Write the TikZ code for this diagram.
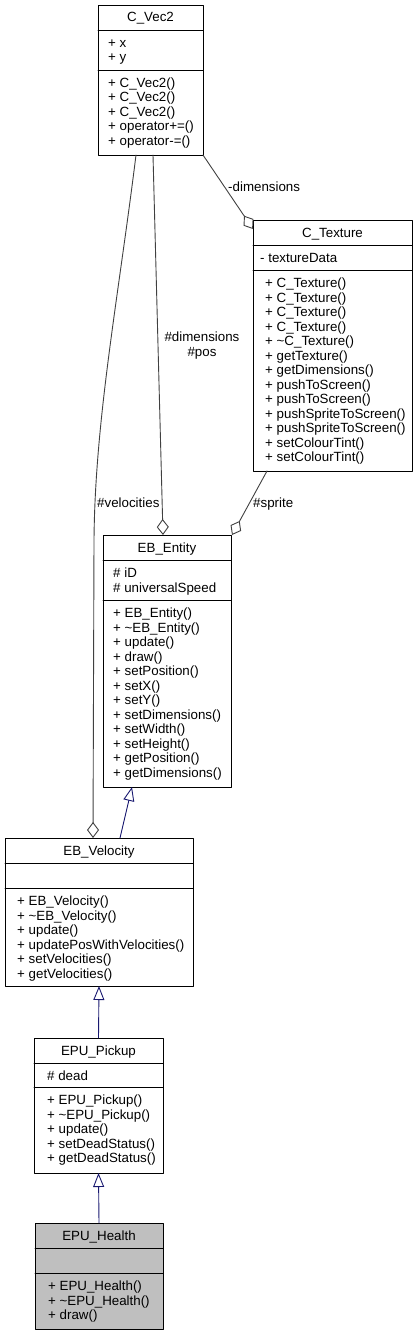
\documentclass[tikz,border=0pt]{standalone}
\usepackage{fontspec}
\setmainfont{Liberation Sans}
\usepackage{tikz}
\usetikzlibrary{arrows.meta}
\definecolor{edgeblue}{HTML}{191970}
\definecolor{edgegrey}{HTML}{404040}
\definecolor{boxgrey}{HTML}{BFBFBF}
\begin{document}
\begin{tikzpicture}[line cap=round,line join=round,x=1pt,y=-1pt,
  font=\fontsize{13.33}{14.5}\selectfont,
  cls/.style={draw=black,fill=white,line width=0.9pt,anchor=north west,inner sep=0,outer sep=0},
  mem/.style={anchor=base west,inner sep=0},
  ttl/.style={anchor=base,inner sep=0},
  lbl/.style={anchor=base west,inner sep=0},
  inh/.style={draw=edgeblue,line width=0.9pt,-{Triangle[open,length=14pt,width=11pt]}},
  agg/.style={draw=edgegrey,line width=0.9pt,-{Diamond[open,length=16pt,width=12pt]}}]
\useasboundingbox (0,0) rectangle (417,1335);
\node[cls,minimum width=105,minimum height=150] (vec2) at (98,5) {};
\draw[line width=0.9pt] (98,30) -- (203,30);
\draw[line width=0.9pt] (98,70) -- (203,70);
\node[ttl] (vec2t) at (150.5,22) {C\_Vec2};
\foreach \t [count=\i] in {+ x,+ y}
\node[mem] (vec2a\i) at (108,{33+\i*14.5}) {\t};
\foreach \t [count=\i] in {+ C\_Vec2(),+ C\_Vec2(),+ C\_Vec2(),+ operator+=(),+ operator-=()}
\node[mem] (vec2m\i) at (108,{73+\i*14.5}) {\t};
\node[cls,minimum width=159,minimum height=251] (texture) at (253,220) {};
\draw[line width=0.9pt] (253,245) -- (412,245);
\draw[line width=0.9pt] (253,270) -- (412,270);
\node[ttl] (texturet) at (332.5,237) {C\_Texture};
\node[mem] (texturea1) at (260,262.5) {- textureData};
\foreach \t [count=\i] in {+ C\_Texture(),+ C\_Texture(),+ C\_Texture(),+ C\_Texture(),+ \textasciitilde C\_Texture(),+ getTexture(),+ getDimensions(),+ pushToScreen(),+ pushToScreen(),+ pushSpriteToScreen(),+ pushSpriteToScreen(),+ setColourTint(),+ setColourTint()}
\node[mem] (texturem\i) at (265,{273+\i*14.5}) {\t};
\node[cls,minimum width=128,minimum height=252] (entity) at (103,535) {};
\draw[line width=0.9pt] (103,560) -- (231,560);
\draw[line width=0.9pt] (103,600) -- (231,600);
\node[ttl] (entityt) at (167,552) {EB\_Entity};
\foreach \t [count=\i] in {\# iD,\# universalSpeed}
\node[mem] (entitya\i) at (113,{563+\i*14.5}) {\t};
\foreach \t [count=\i] in {+ EB\_Entity(),+ \textasciitilde EB\_Entity(),+ update(),+ draw(),+ setPosition(),+ setX(),+ setY(),+ setDimensions(),+ setWidth(),+ setHeight(),+ getPosition(),+ getDimensions()}
\node[mem] (entitym\i) at (113,{603+\i*14.5}) {\t};
\node[cls,minimum width=188,minimum height=148] (velocity) at (5,838) {};
\draw[line width=0.9pt] (5,863) -- (193,863);
\draw[line width=0.9pt] (5,888) -- (193,888);
\node[ttl] (velocityt) at (99,855) {EB\_Velocity};
\foreach \t [count=\i] in {+ EB\_Velocity(),+ \textasciitilde EB\_Velocity(),+ update(),+ updatePosWithVelocities(),+ setVelocities(),+ getVelocities()}
\node[mem] (velocitym\i) at (17,{891+\i*14.5}) {\t};
\node[cls,minimum width=129,minimum height=135] (pickup) at (34,1038) {};
\draw[line width=0.9pt] (34,1063) -- (163,1063);
\draw[line width=0.9pt] (34,1087) -- (163,1087);
\node[ttl] (pickupt) at (98.5,1055) {EPU\_Pickup};
\node[mem] (pickupa1) at (47,1080.5) {\# dead};
\foreach \t [count=\i] in {+ EPU\_Pickup(),+ \textasciitilde EPU\_Pickup(),+ update(),+ setDeadStatus(),+ getDeadStatus()}
\node[mem] (pickupm\i) at (47,{1090+\i*14.5}) {\t};
\node[cls,fill=boxgrey,minimum width=128,minimum height=106] (health) at (35,1223) {};
\draw[line width=0.9pt] (35,1248) -- (163,1248);
\draw[line width=0.9pt] (35,1273) -- (163,1273);
\node[ttl] (healtht) at (99,1240) {EPU\_Health};
\foreach \t [count=\i] in {+ EPU\_Health(),+ \textasciitilde EPU\_Health(),+ draw()}
\node[mem] (healthm\i) at (48,{1276+\i*14.5}) {\t};
\draw[agg] ([xshift=38]vec2.south west) .. controls (118,300) and (95,420) .. (94,540) -- ([xshift=-6]velocity.north);
\draw[agg] ([xshift=55]vec2.south west) -- ([xshift=-4]entity.north);
\draw[agg] (vec2.south east) -- ([yshift=-9]texture.north west);
\draw[agg] ([xshift=14]texture.south west) -- ([xshift=1]entity.north east);
\draw[inh] ([xshift=21]velocity.north) -- ([xshift=-35]entity.south);
\draw[inh] (pickup.north) -- (velocity.south);
\draw[inh] (health.north) -- (pickup.south);
\node[lbl] (velLbl) at (97,507) {\#velocities};
\node[inner sep=0,align=center] (posLbl) at (202,345.5) {\#dimensions\\\#pos};
\node[lbl] (dimLbl) at (228,191) {-dimensions};
\node[lbl] (sprLbl) at (253,507) {\#sprite};
\end{tikzpicture}
\end{document}
